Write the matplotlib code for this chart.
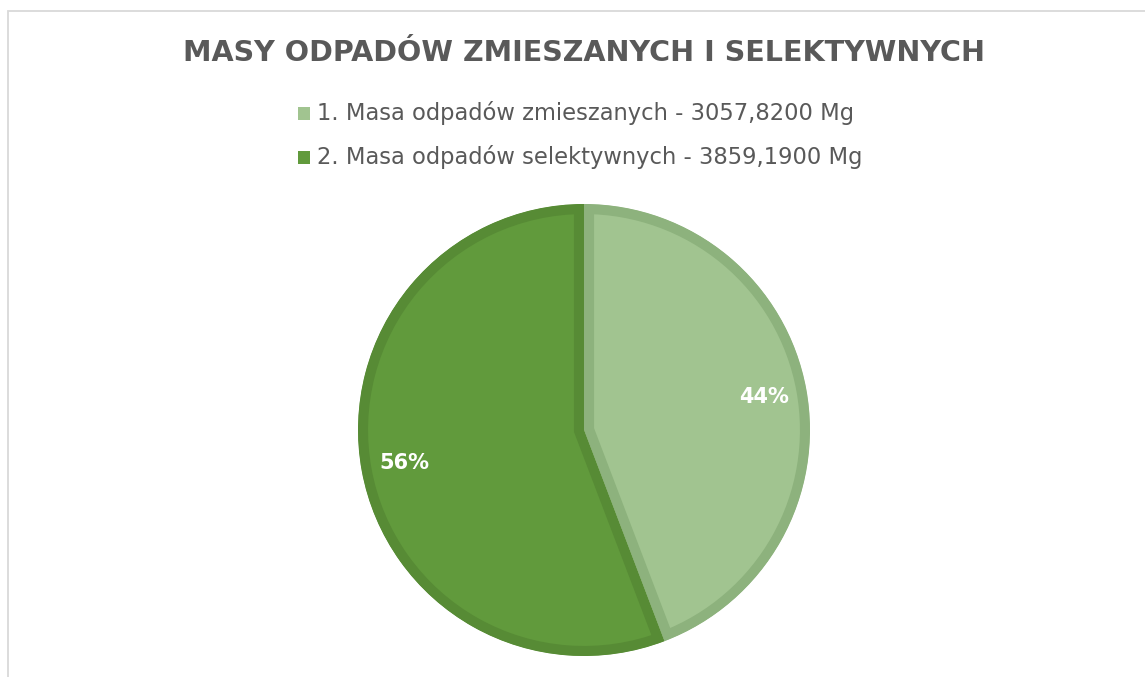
import matplotlib.pyplot as plt
from matplotlib.patches import Rectangle

title = "MASY ODPADÓW ZMIESZANYCH I SELEKTYWNYCH"
labels = ["1. Masa odpadów zmieszanych - 3057,8200 Mg",
          "2. Masa odpadów selektywnych - 3859,1900 Mg"]
values = [3057.82, 3859.19]
fill_colors = ["#a1c490", "#619a3c"]
edge_colors = ["#8db27d", "#578b35"]

W, H = 1145, 677
fig = plt.figure(figsize=(W / 100, H / 100), dpi=100)

# outer frame (goes past right/bottom edges)
fig.patches.append(Rectangle((8 / W, -0.1), 1.2, (H - 11) / H + 0.1,
                             transform=fig.transFigure, fill=False,
                             edgecolor="#d9d9d9", linewidth=1.3))

fig.text(584 / W, 1 - 53 / H, title, ha="center", va="center",
         fontsize=20.6, fontweight="bold", color="#595959")

# legend
for i, lab in enumerate(labels):
    y = 1 - (113 + 44 * i) / H
    fig.patches.append(Rectangle((298 / W, y - 6.5 / H), 12 / W, 13 / H,
                                 transform=fig.transFigure,
                                 facecolor=fill_colors[i], edgecolor="none"))
    fig.text(317 / W, y, lab, ha="left", va="center", fontsize=16.3,
             color="#595959")

R = 226
ax = fig.add_axes([(584 - R) / W, (H - 430 - R) / H, 2 * R / W, 2 * R / H])
wedges, texts, autotexts = ax.pie(
    values, colors=fill_colors, startangle=90, counterclock=False,
    autopct=lambda p: f"{p:.0f}%", pctdistance=0.81,
    wedgeprops=dict(linewidth=14.5),
    textprops=dict(color="white", fontsize=15, fontweight="bold"))
for w, ec in zip(wedges, edge_colors):
    w.set_edgecolor(ec)
    # keep the border inside each slice
    w.set_clip_path(w.get_path(), w.get_transform())
    w.set_clip_on(True)
ax.set_aspect("equal")
ax.set_xlim(-1, 1)
ax.set_ylim(-1, 1)

fig.savefig("out.png", dpi=100)
